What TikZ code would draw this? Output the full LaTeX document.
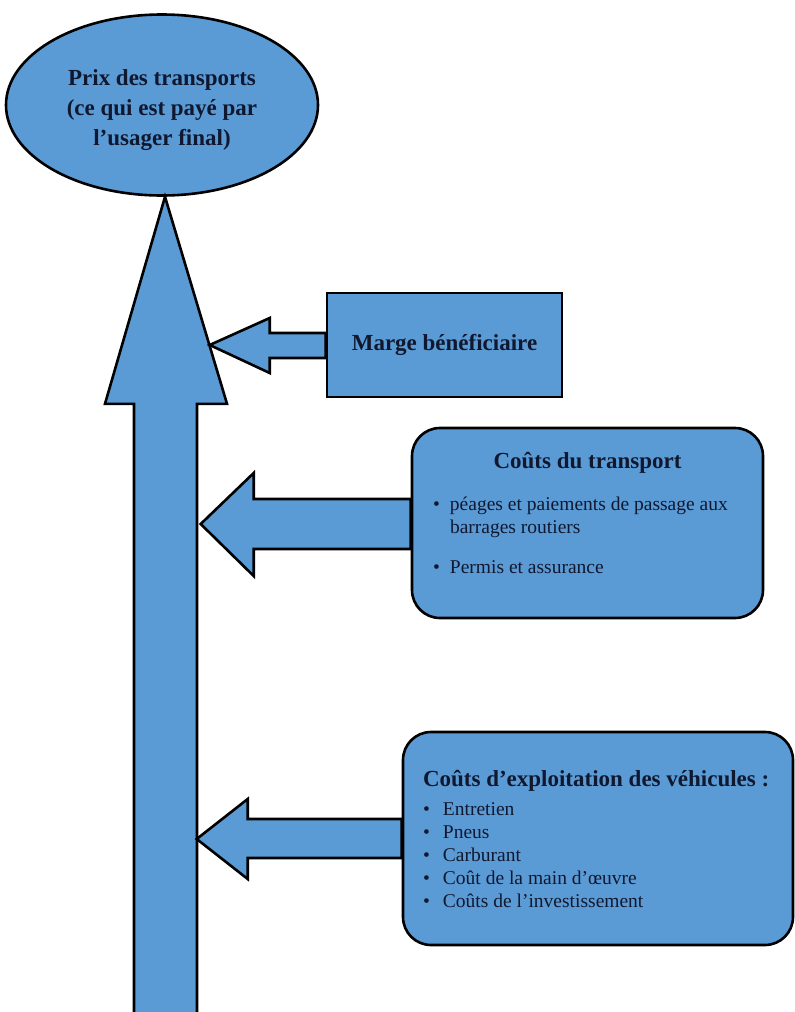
\documentclass[tikz,border=0pt]{standalone}
\usepackage{fontspec}
\setmainfont{Liberation Serif}
\usetikzlibrary{shapes.geometric,positioning}
\definecolor{boxblue}{HTML}{5B9BD5}
\definecolor{inkblue}{HTML}{101830}
\newcommand\boxtitle{\fontsize{23}{30}\selectfont\bfseries}
\newcommand\boxitem{\fontsize{19.5}{23}\selectfont}

\begin{document}
\begin{tikzpicture}[x=1pt,y=-1pt,line join=miter,
  every node/.style={text=inkblue},
  blueshape/.style={draw=black,line width=2.6pt,fill=boxblue},
  roundbox/.style={blueshape,rounded corners=28pt}]
\useasboundingbox (0,0) rectangle (795,1012);
% boxes
\node[blueshape,ellipse,minimum width=312,minimum height=181,font=\boxtitle] (prix) at (162,105) {\raisebox{-4pt}[\height][\depth]{\begin{tabular}{@{}c@{}}Prix des transports\\(ce qui est payé par\\l’usager final)\end{tabular}}};
\node[blueshape,minimum width=235,minimum height=104,font=\boxtitle] (marge) at (444.5,345) {Marge bénéficiaire};
\node[roundbox,minimum width=351,minimum height=190] (trans) at (587.5,523) {\begin{minipage}{309pt}
\centering{\boxtitle Coûts du transport\par}\vspace{19pt}
\raggedright\boxitem
\makebox[17pt][l]{\textbullet}péages et paiements de passage aux\\
\hspace*{17pt}barrages routiers\\[17pt]
\makebox[17pt][l]{\textbullet}Permis et assurance\par\vspace*{20pt}
\end{minipage}};
\node[roundbox,minimum width=390,minimum height=213] (veh) at (598,838.5) {\begin{minipage}{350pt}
{\boxtitle Coûts d’exploitation des véhicules :\par}\vspace{6pt}
\boxitem
\makebox[20pt][l]{\textbullet}Entretien\\
\makebox[20pt][l]{\textbullet}Pneus\\
\makebox[20pt][l]{\textbullet}Carburant\\
\makebox[20pt][l]{\textbullet}Coût de la main d’œuvre\\
\makebox[20pt][l]{\textbullet}Coûts de l’investissement\par
\end{minipage}};
% block arrows
\draw[blueshape] ([xshift=3pt]prix.south) -- ++(62,207) -- ++(-30,0) -- ++(0,625) -- ++(-63,0) -- ++(0,-625) -- ++(-29,0) -- cycle;
\draw[blueshape] (marge.west) ++(0,-12) -- ++(-56,0) -- ++(0,-15) -- ++(-60,27) -- ++(60,28) -- ++(0,-15) -- ++(56,0) -- cycle;
\draw[blueshape] (trans.west) ++(0,-24) -- ++(-157,0) -- ++(0,-26) -- ++(-53,51) -- ++(53,52) -- ++(0,-27) -- ++(157,0) -- cycle;
\draw[blueshape] (veh.west) ++(0,-19.5) -- ++(-154,0) -- ++(0,-20) -- ++(-51,40) -- ++(51,40) -- ++(0,-21) -- ++(154,0) -- cycle;
\end{tikzpicture}
\end{document}
